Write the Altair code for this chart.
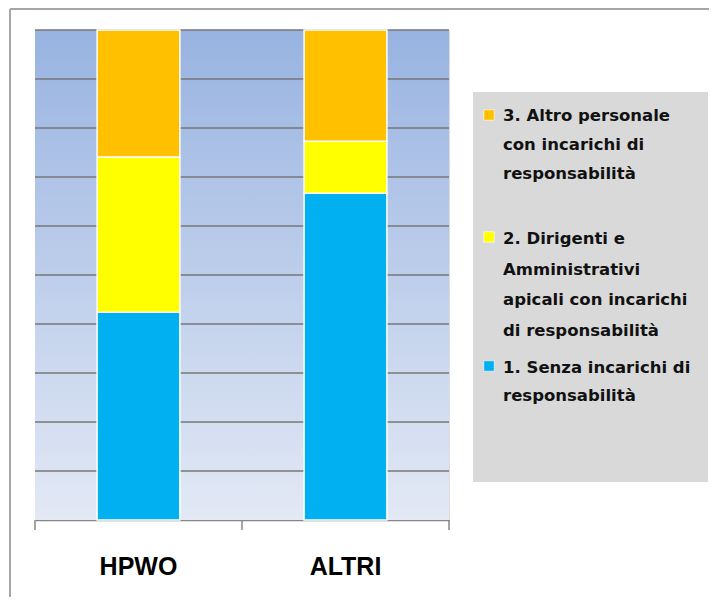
import altair as alt
import pandas as pd

# ---- data ----
categories = ["HPWO", "ALTRI"]
series = [
    "1. Senza incarichi di responsabilità",
    "2. Dirigenti e Amministrativi apicali con incarichi di responsabilità",
    "3. Altro personale con incarichi di responsabilità",
]
hpwo_values = [42.4, 31.7, 25.9]
altri_values = [66.7, 10.6, 22.7]
colors = ["#00B0F0", "#FFFF00", "#FFC000"]
legend_labels = [
    "1. Senza incarichi  di\nresponsabilità",
    "2. Dirigenti e\nAmministrativi\napicali  con incarichi\ndi responsabilità",
    "3. Altro personale\ncon incarichi  di\nresponsabilità",
]
grid_values = [10, 20, 30, 40, 50, 60, 70, 80, 90, 100]

rows = []
for cat, vals in zip(categories, [hpwo_values, altri_values]):
    for i, (s, v) in enumerate(zip(series, vals)):
        rows.append({"category": cat, "series": s, "order": i, "value": v})
df = pd.DataFrame(rows)
grid_df = pd.DataFrame({"v": grid_values})
one = pd.DataFrame({"k": [0]})

W, H = 414, 490

# ---- layers ----
background = alt.Chart(one).mark_rect(
    color=alt.Gradient(
        gradient="linear",
        stops=[alt.GradientStop(color="#98B3E1", offset=0),
               alt.GradientStop(color="#E3E9F5", offset=1)],
        x1=0, x2=0, y1=0, y2=1,
    )
).encode(x=alt.value(0), x2=alt.value(W), y=alt.value(0), y2=alt.value(H))

grid = alt.Chart(grid_df).mark_rule(color="#777777", strokeWidth=1.4).encode(
    y=alt.Y("v:Q", scale=alt.Scale(domain=[0, 100], nice=False), axis=None),
    x=alt.value(0), x2=alt.value(W),
)

bars = alt.Chart(df).mark_bar(stroke="white", strokeWidth=1.5).encode(
    x=alt.X(
        "category:N", sort=categories,
        scale=alt.Scale(paddingInner=0.6, paddingOuter=0.3),
        axis=alt.Axis(
            title=None, labelAngle=0, ticks=False,
            domainColor="#868686", domainWidth=1.5,
            labelFont="Liberation Sans", labelFontWeight="bold",
            labelFontSize=25, labelColor="#000000", labelPadding=34,
            grid=False,
        ),
    ),
    y=alt.Y("value:Q", stack="zero", scale=alt.Scale(domain=[0, 100], nice=False), axis=None),
    color=alt.Color("series:N", scale=alt.Scale(domain=series, range=colors), legend=None),
    order=alt.Order("order:Q"),
)

# category-boundary tick marks on the x axis
tick_layers = [
    alt.Chart(one).mark_rule(color="#868686", strokeWidth=1.5).encode(
        x=alt.value(tx), y=alt.value(H), y2=alt.value(H + 10)
    )
    for tx in (0, W / 2, W)
]

legend_box = alt.Chart(one).mark_rect(color="#D9D9D9").encode(
    x=alt.value(438), x2=alt.value(673), y=alt.value(62), y2=alt.value(452)
)

leg_df = pd.DataFrame({"series": series, "label": legend_labels, "color": colors})
# layout (square centre y, first baseline y, line height) per legend entry
legend_layout = [(336, 343, 28), (207, 214, 30.5), (85, 91, 29)]

legend_layers = []
for i, (sq_y, base_y, lh) in enumerate(legend_layout):
    sub = alt.Chart(leg_df).transform_filter(alt.datum.series == series[i])
    legend_layers.append(
        sub.mark_square(size=110, stroke="white", strokeWidth=0.6, opacity=1).encode(
            x=alt.value(454), y=alt.value(sq_y),
            fill=alt.Fill("color:N", scale=None),
        )
    )
    legend_layers.append(
        sub.mark_text(
            align="left", baseline="alphabetic", lineBreak="\n", lineHeight=lh,
            font="DejaVu Sans", fontWeight="bold", fontSize=16.5, color="#111111",
        ).encode(x=alt.value(468), y=alt.value(base_y), text="label:N")
    )

frame_left = alt.Chart(one).mark_rule(color="#A6A6A6", strokeWidth=2).encode(
    x=alt.value(-25), y=alt.value(-21), y2=alt.value(567)
)
frame_top = alt.Chart(one).mark_rule(color="#A6A6A6", strokeWidth=2).encode(
    x=alt.value(-25), x2=alt.value(674), y=alt.value(-21)
)

chart = alt.layer(
    background, grid, bars, *tick_layers, legend_box, *legend_layers, frame_left, frame_top
).properties(
    width=W, height=H,
    autosize=alt.AutoSizeParams(type="none"),
    padding={"left": 27, "top": 22, "right": 260, "bottom": 77},
).configure_view(stroke=None).configure(background="white")

chart.save("out.html", embed_options={"renderer": "svg", "actions": False})
